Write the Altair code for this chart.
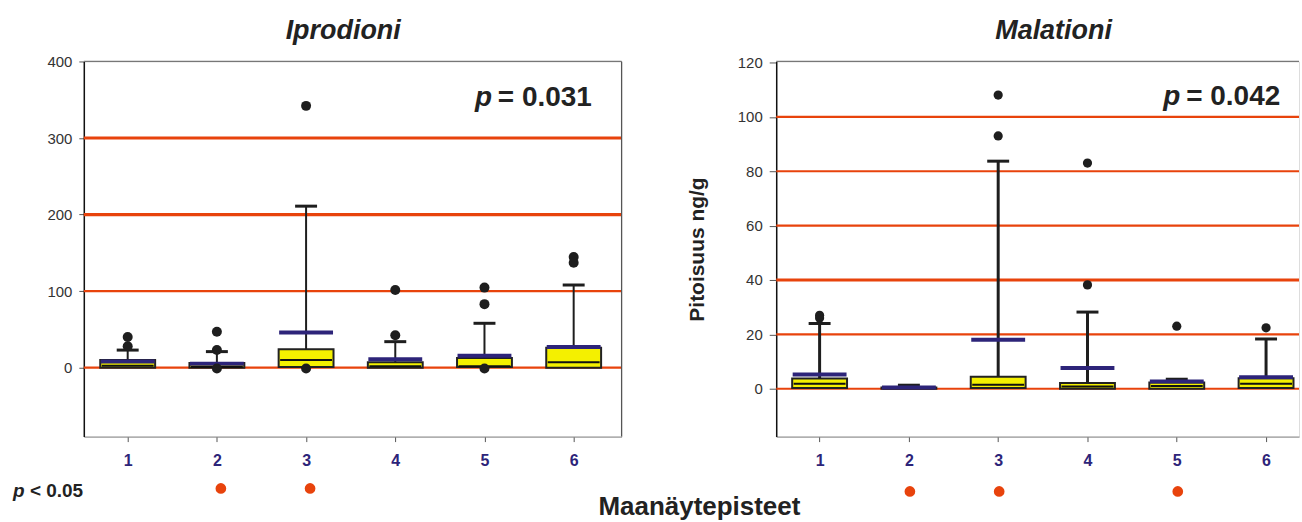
import altair as alt
import pandas as pd

groups = [1, 2, 3, 4, 5, 6]

# ---- Iprodioni (left panel) ----
ipr_q1 = [0, 0, 1, 0, 1, 0]
ipr_median = [2.5, 1, 10, 2, 2, 7]
ipr_q3 = [10, 6, 24, 7, 12.6, 26]
ipr_mean = [8, 5, 46, 11, 15.6, 27]
ipr_whisker = [23, 21, 211, 34, 58, 108]
ipr_out_group = [1, 1, 2, 2, 2, 3, 3, 4, 4, 5, 5, 5, 6, 6]
ipr_out_value = [28, 40, 23, 47, -1, 342, -1, 42.5, 101.6, 83, 104.6, -1, 137, 144.6]
ipr_ref = [0, 100, 200, 300]
ipr_sig = [2, 3]
ipr_ticks = [0, 100, 200, 300, 400]

# ---- Malationi (right panel) ----
mal_q1 = [0.3, 0, 0.3, 0, 0, 0.3]
mal_median = [1.8, 0.2, 1.5, 0.8, 1, 1.8]
mal_q3 = [3.8, 0.5, 4.4, 2.1, 2.3, 3.9]
mal_mean = [5.2, 0.5, 18, 7.6, 2.7, 4.2]
mal_whisker = [24, 1.3, 83.7, 28.2, 3.5, 18.3]
mal_out_group = [1, 1, 3, 3, 4, 4, 5, 6]
mal_out_value = [26, 27, 93, 108, 38.2, 83, 23, 22.4]
mal_ref = [0, 20, 40, 60, 80, 100]
mal_sig = [2, 3, 5]
mal_ticks = [0, 20, 40, 60, 80, 100, 120]

FONT = "Liberation Sans"
RED = "#E8430C"
NAVY = "#2D2479"
YELLOW = "#F4F000"
DARK = "#1e1e1e"
H = 376


def panel(name, pval, q1, med, q3, mean, whisk, og, ov, refs, thick_refs, sig,
          ticks, ydom, xdom, W, tick_size, ytitle, whisker_w, title_x, p_x,
          p_y, sig_dx, sig_dy, dot_size, left):
    stats = pd.DataFrame({"g": groups, "q1": q1, "med": med, "q3": q3,
                          "mean": mean, "w": whisk})
    outl = pd.DataFrame({"g": og, "v": ov})
    refdf = pd.DataFrame({"v": refs})
    sigdf = pd.DataFrame({"g": sig})

    xs = alt.Scale(domain=xdom, nice=False, zero=False)
    ys = alt.Scale(domain=ydom, nice=False, zero=False)
    xax = alt.Axis(values=groups, format="d", grid=False, labelFont=FONT,
                   labelFontSize=16, labelFontWeight="bold", labelColor=NAVY,
                   tickSize=5, tickColor="#555", domainColor="#888",
                   labelPadding=11, labelAngle=0)
    yargs = dict(values=ticks, grid=False, labelFont=FONT, labelFontSize=15,
                 labelColor="#333", tickSize=tick_size, tickColor="#555",
                 domainColor="#111", domainWidth=1.5, labelPadding=7)
    if ytitle:
        yargs.update(titleFont=FONT, titleFontSize=21, titleFontWeight="bold",
                     titleColor="#222", titleX=-79, titleY=H / 2,
                     titleAngle=-90, titleBaseline="middle", titleAlign="center")
    yax = alt.Axis(**yargs)

    def X():
        return alt.X("g:Q", scale=xs, axis=xax, title=None)

    def Y(f):
        return alt.Y(f, scale=ys, axis=yax, title=ytitle if ytitle else None)

    refs_layer = alt.Chart(refdf).mark_rule(color=RED).encode(
        y=Y("v:Q"),
        strokeWidth=alt.condition(
            alt.FieldOneOfPredicate(field="v", oneOf=thick_refs),
            alt.value(3.2), alt.value(2.2)))

    box = alt.Chart(stats).mark_rect(
        fill=YELLOW, stroke="#222", strokeWidth=2, xOffset=-27.5, x2Offset=27.5
    ).encode(x=X(), x2=alt.X2("g"), y=Y("q1:Q"), y2=alt.Y2("q3"))

    median = alt.Chart(stats).mark_rule(
        color="#111", strokeWidth=2, xOffset=-26, x2Offset=26
    ).encode(x=X(), x2=alt.X2("g"), y=Y("med:Q"))

    whisker = alt.Chart(stats).mark_rule(color=DARK, strokeWidth=whisker_w).encode(
        x=X(), y=Y("q3:Q"), y2=alt.Y2("w"))

    cap = alt.Chart(stats).mark_rule(
        color=DARK, strokeWidth=3, xOffset=-11, x2Offset=11
    ).encode(x=X(), x2=alt.X2("g"), y=Y("w:Q"))

    mean_l = alt.Chart(stats).mark_rule(
        color=NAVY, strokeWidth=4, xOffset=-27, x2Offset=27
    ).encode(x=X(), x2=alt.X2("g"), y=Y("mean:Q"))

    dots = alt.Chart(outl).mark_circle(color=DARK, opacity=1, size=dot_size).encode(
        x=X(), y=Y("v:Q"))

    sig_dots = alt.Chart(sigdf).mark_circle(
        color=RED, opacity=1, size=115, xOffset=sig_dx
    ).encode(x=X(), y=alt.value(H + sig_dy))

    top = alt.Chart(pd.DataFrame({"k": [0]})).mark_rule(
        color="#777", strokeWidth=1.2
    ).encode(x=alt.value(0), x2=alt.value(W), y=alt.value(0))

    title = alt.Chart(pd.DataFrame({"t": [name]})).mark_text(
        font=FONT, fontSize=27, fontWeight="bold", fontStyle="italic",
        align="center", baseline="alphabetic", color="#222"
    ).encode(x=alt.value(title_x), y=alt.value(-23), text="t:N")

    p_letter = alt.Chart(pd.DataFrame({"t": ["p"]})).mark_text(
        font=FONT, fontSize=28, fontWeight="bold", fontStyle="italic",
        align="left", baseline="alphabetic", color="#222"
    ).encode(x=alt.value(p_x), y=alt.value(p_y), text="t:N")

    p_rest = alt.Chart(pd.DataFrame({"t": [pval]})).mark_text(
        font=FONT, fontSize=28, fontWeight="bold",
        align="left", baseline="alphabetic", color="#222"
    ).encode(x=alt.value(p_x + 23), y=alt.value(p_y), text="t:N")

    layers = [refs_layer, box, median, whisker, cap, mean_l, dots, sig_dots,
              top, title, p_letter, p_rest]

    if left:
        right_border = alt.Chart(pd.DataFrame({"k": [0]})).mark_rule(
            color="#555", strokeWidth=1.2
        ).encode(x=alt.value(W), y=alt.value(0), y2=alt.value(H))
        spacer = alt.Chart(pd.DataFrame({"k": [0]})).mark_rule(
            strokeOpacity=0, stroke="#fff"
        ).encode(x=alt.value(-83), x2=alt.value(-82), y=alt.value(-60),
                 y2=alt.value(-59))
        sig_p = alt.Chart(pd.DataFrame({"t": ["p"]})).mark_text(
            font=FONT, fontSize=19, fontWeight="bold", fontStyle="italic",
            align="left", baseline="alphabetic", color="#222"
        ).encode(x=alt.value(-71), y=alt.value(H + 61), text="t:N")
        sig_rest = alt.Chart(pd.DataFrame({"t": ["< 0.05"]})).mark_text(
            font=FONT, fontSize=19, fontWeight="bold",
            align="left", baseline="alphabetic", color="#222"
        ).encode(x=alt.value(-54), y=alt.value(H + 61), text="t:N")
        layers += [right_border, spacer, sig_p, sig_rest]
    else:
        xlab = alt.Chart(pd.DataFrame({"t": ["Maanäytepisteet"]})).mark_text(
            font=FONT, fontSize=26, fontWeight="bold",
            align="center", baseline="alphabetic", color="#222"
        ).encode(x=alt.value(-77), y=alt.value(455), text="t:N")
        layers += [xlab]

    return alt.layer(*layers).properties(width=W, height=H)


LW = 539
RW = 524
left = panel("Iprodioni", "= 0.031", ipr_q1, ipr_median, ipr_q3, ipr_mean,
             ipr_whisker, ipr_out_group, ipr_out_value, ipr_ref, [200, 300],
             ipr_sig, ipr_ticks, [-90, 400], [0.508, 6.537], LW, 5, None, 2,
             260, 392, 45, 4, 52, 100, True)
right = panel("Malationi", "= 0.042", mal_q1, mal_median, mal_q3, mal_mean,
              mal_whisker, mal_out_group, mal_out_value, mal_ref, [40],
              mal_sig, mal_ticks, [-17.6, 120.37], [0.514, 6.369], RW, 7,
              "Pitoisuus ng/g", 3, 278, 388, 44, 1, 55, 85, False)

chart = alt.hconcat(left, right, spacing=155, bounds="flush").properties(
    padding=0
).configure_view(stroke=None).configure(background="white")

chart.save("out.html", embed_options={"renderer": "svg", "actions": False})
